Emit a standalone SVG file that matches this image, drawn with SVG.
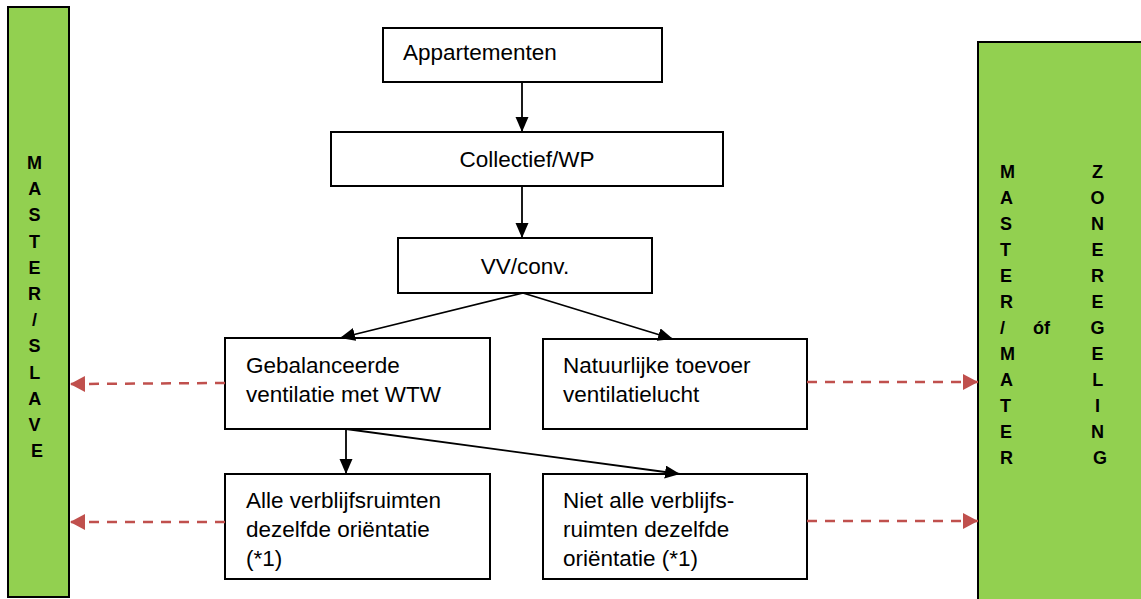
<svg xmlns="http://www.w3.org/2000/svg" width="1141" height="599" viewBox="0 0 1141 599">
  <style>
    .box { fill: #ffffff; stroke: #000000; stroke-width: 2; }
    .bar { fill: #92D050; stroke: #000000; stroke-width: 2; }
    .lbl { font-family: "Liberation Sans", Arial, sans-serif; font-size: 22.5px; fill: #000000; }
    .vert { font-family: "Liberation Sans", Arial, sans-serif; font-size: 18px; font-weight: bold; fill: #000000; }
    .conn { stroke: #000000; stroke-width: 1.8; fill: none; }
    .dash { stroke: #C0504D; stroke-width: 2.5; stroke-dasharray: 10 8; fill: none; }
  </style>
  <defs>
    <marker id="ah" markerUnits="userSpaceOnUse" markerWidth="16" markerHeight="14" refX="15" refY="6.5" orient="auto">
      <path d="M0,0 L15,6.5 L0,13 Z" fill="#000000"/>
    </marker>
    <marker id="rh" markerUnits="userSpaceOnUse" markerWidth="16" markerHeight="17" refX="15" refY="8" orient="auto">
      <path d="M0,0 L15,8 L0,16 Z" fill="#C0504D"/>
    </marker>
  </defs>

  <g id="bar-left">
    <rect class="bar" x="8" y="7" width="61" height="590"/>
    <text class="vert" text-anchor="middle">
      <tspan x="37" y="169">M</tspan>
      <tspan x="37" dy="26.2">A</tspan>
      <tspan x="37" dy="26.2">S</tspan>
      <tspan x="37" dy="26.2">T</tspan>
      <tspan x="37" dy="26.2">E</tspan>
      <tspan x="37" dy="26.2">R</tspan>
      <tspan x="37" dy="26.2">/</tspan>
      <tspan x="37" dy="26.2">S</tspan>
      <tspan x="37" dy="26.2">L</tspan>
      <tspan x="37" dy="26.2">A</tspan>
      <tspan x="37" dy="26.2">V</tspan>
      <tspan x="37" dy="26.2">E</tspan>
    </text>
  </g>

  <g id="bar-right">
    <rect class="bar" x="978" y="42" width="170" height="565"/>
    <text class="vert">
      <tspan x="1000" y="178">M</tspan>
      <tspan x="1000" dy="26">A</tspan>
      <tspan x="1000" dy="26">S</tspan>
      <tspan x="1000" dy="26">T</tspan>
      <tspan x="1000" dy="26">E</tspan>
      <tspan x="1000" dy="26">R</tspan>
      <tspan x="1000" dy="26">/</tspan>
      <tspan x="1000" dy="26">M</tspan>
      <tspan x="1000" dy="26">A</tspan>
      <tspan x="1000" dy="26">T</tspan>
      <tspan x="1000" dy="26">E</tspan>
      <tspan x="1000" dy="26">R</tspan>
    </text>
    <text class="vert" x="1033" y="334">óf</text>
    <text class="vert" text-anchor="middle">
      <tspan x="1100" y="178">Z</tspan>
      <tspan x="1100" dy="26">O</tspan>
      <tspan x="1100" dy="26">N</tspan>
      <tspan x="1100" dy="26">E</tspan>
      <tspan x="1100" dy="26">R</tspan>
      <tspan x="1100" dy="26">E</tspan>
      <tspan x="1100" dy="26">G</tspan>
      <tspan x="1100" dy="26">E</tspan>
      <tspan x="1100" dy="26">L</tspan>
      <tspan x="1100" dy="26">I</tspan>
      <tspan x="1100" dy="26">N</tspan>
      <tspan x="1100" dy="26">G</tspan>
    </text>
  </g>

  <g id="node-appartementen">
    <rect class="box" x="383" y="28" width="279" height="54"/>
    <text class="lbl" x="403" y="60">Appartementen</text>
  </g>

  <g id="node-collectief">
    <rect class="box" x="331" y="132" width="392" height="54"/>
    <text class="lbl" x="527" y="167" text-anchor="middle">Collectief/WP</text>
  </g>

  <g id="node-vv">
    <rect class="box" x="398" y="238" width="254" height="55"/>
    <text class="lbl" x="525" y="274" text-anchor="middle">VV/conv.</text>
  </g>

  <g id="node-gebalanceerde">
    <rect class="box" x="225" y="338" width="265" height="91"/>
    <text class="lbl"><tspan x="246" y="373">Gebalanceerde</tspan><tspan x="246" y="402">ventilatie met WTW</tspan></text>
  </g>

  <g id="node-natuurlijke">
    <rect class="box" x="543" y="339" width="264" height="90"/>
    <text class="lbl"><tspan x="563" y="373">Natuurlijke toevoer</tspan><tspan x="563" y="402">ventilatielucht</tspan></text>
  </g>

  <g id="node-alle">
    <rect class="box" x="225" y="474" width="265" height="105"/>
    <text class="lbl"><tspan x="246" y="508">Alle verblijfsruimten</tspan><tspan x="246" y="537">dezelfde oriëntatie</tspan><tspan x="246" y="566">(*1)</tspan></text>
  </g>

  <g id="node-niet-alle">
    <rect class="box" x="543" y="474" width="264" height="105"/>
    <text class="lbl"><tspan x="563" y="508">Niet alle verblijfs-</tspan><tspan x="563" y="537">ruimten dezelfde</tspan><tspan x="563" y="566">oriëntatie (*1)</tspan></text>
  </g>

  <g id="connectors">
    <line class="conn" x1="522" y1="82" x2="522" y2="132" marker-end="url(#ah)"/>
    <line class="conn" x1="522" y1="186" x2="522" y2="238" marker-end="url(#ah)"/>
    <line class="conn" x1="523" y1="293" x2="340" y2="338" marker-end="url(#ah)"/>
    <line class="conn" x1="523" y1="293" x2="673" y2="339" marker-end="url(#ah)"/>
    <line class="conn" x1="346" y1="429" x2="346" y2="474" marker-end="url(#ah)"/>
    <line class="conn" x1="346" y1="429" x2="680" y2="474" marker-end="url(#ah)"/>
    <line class="dash" x1="225" y1="383" x2="70" y2="384" marker-end="url(#rh)"/>
    <line class="dash" x1="225" y1="522" x2="70" y2="522" marker-end="url(#rh)"/>
    <line class="dash" x1="807" y1="382" x2="978" y2="382" marker-end="url(#rh)"/>
    <line class="dash" x1="807" y1="521" x2="978" y2="521" marker-end="url(#rh)"/>
  </g>
</svg>
